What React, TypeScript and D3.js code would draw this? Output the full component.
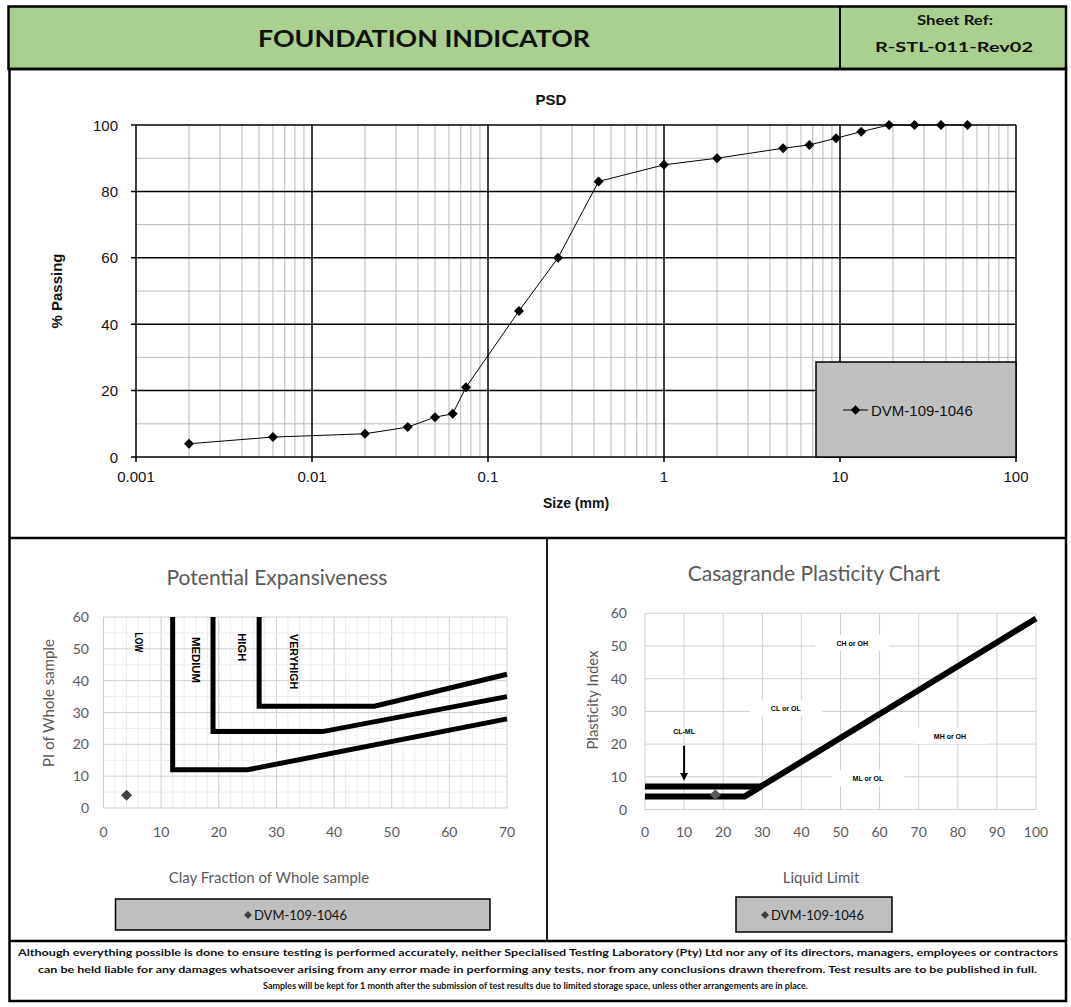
import React from "react";
import * as d3 from "d3";

// ---------- DATA ----------
const psdSizes = [0.002, 0.006, 0.02, 0.035, 0.05, 0.063, 0.075, 0.15, 0.25, 0.425, 1, 2, 4.75, 6.7, 9.5, 13.2, 19, 26.5, 37.5, 53];
const psdPassing = [4, 6, 7, 9, 12, 13, 21, 44, 60, 83, 88, 90, 93, 94, 96, 98, 100, 100, 100, 100];
const psdYTicks = [0, 20, 40, 60, 80, 100];
const psdXTicks = [0.001, 0.01, 0.1, 1, 10, 100];
const sampleName = "DVM-109-1046";

const expXTicks = [0, 10, 20, 30, 40, 50, 60, 70];
const expYTicks = [0, 10, 20, 30, 40, 50, 60];
const expLowMedium: [number, number][] = [[12, 60], [12, 12], [25, 12], [70, 28]];
const expMediumHigh: [number, number][] = [[19, 60], [19, 24], [38, 24], [70, 35]];
const expHighVeryHigh: [number, number][] = [[27, 60], [27, 32], [47, 32], [70, 42]];
const expLabels = [
  { text: "LOW", x: 6, y: 52, len: 20 },
  { text: "MEDIUM", x: 16, y: 46.5, len: 46 },
  { text: "HIGH", x: 24, y: 50.5, len: 28 },
  { text: "VERYHIGH", x: 33, y: 46, len: 55 },
];
const expSample: [number, number] = [4, 4];

const casXTicks = [0, 10, 20, 30, 40, 50, 60, 70, 80, 90, 100];
const casYTicks = [0, 10, 20, 30, 40, 50, 60];
const casALine: [number, number][] = [[0, 4], [25.5, 4], [100, 58.4]];
const casUpper: [number, number][] = [[0, 7], [29.6, 7]];
const casArrow: [number, number][] = [[10, 19.5], [10, 10]];
const casLabels = [
  { text: "CL-ML", x: 10, y: 24, w: 34 },
  { text: "CL or OL", x: 36, y: 31, w: 72 },
  { text: "CH or OH", x: 53, y: 51, w: 74 },
  { text: "MH or OH", x: 78, y: 22.5, w: 72 },
  { text: "ML or OL", x: 57, y: 9.6, w: 72 },
];
const casSample: [number, number] = [18, 4.5];

const footerLines = [
  "Although everything possible is done to ensure testing is performed accurately, neither Specialised Testing Laboratory (Pty) Ltd nor any of its directors, managers, employees or contractors",
  "can be held liable for any damages whatsoever arising from any error made in performing any tests, nor from any conclusions drawn therefrom. Test results are to be published in full.",
  "Samples will be kept for 1 month after the submission of test results due to limited storage space, unless other arrangements are in place.",
];

// ---------- STYLE ----------
const ARIAL = "'Liberation Sans', Arial, sans-serif";
const CAL = "Lato, 'Open Sans', sans-serif";
const GREY_TXT = "#595959";

const diamond = (size: number) => d3.symbol().type(d3.symbolSquare).size(size)() as string;

export default function App() {
  // PSD scales
  const px = d3.scaleLog().domain([0.001, 100]).range([136, 1016]);
  const py = d3.scaleLinear().domain([0, 100]).range([457, 125]);
  const minorX: number[] = [];
  [0.001, 0.01, 0.1, 1, 10].forEach((d) => {
    for (let k = 2; k <= 9; k++) minorX.push(k * d);
  });
  const minorY = [10, 30, 50, 70, 90];
  const psdLine = d3
    .line<number>()
    .x((_, i) => px(psdSizes[i]))
    .y((v) => py(v));

  // Expansiveness scales
  const ex = d3.scaleLinear().domain([0, 70]).range([103.5, 507]);
  const ey = d3.scaleLinear().domain([0, 60]).range([808, 617]);
  const exMinor = d3.range(0, 71, 2);
  const eyMinor = d3.range(0, 61, 5);
  const eLine = d3.line<[number, number]>().x((d) => ex(d[0])).y((d) => ey(d[1]));

  // Casagrande scales
  const cx = d3.scaleLinear().domain([0, 100]).range([645, 1036]);
  const cy = d3.scaleLinear().domain([0, 60]).range([809.5, 613.3]);
  const cLine = d3.line<[number, number]>().x((d) => cx(d[0])).y((d) => cy(d[1]));

  return (
    <svg width={1071} height={1007} style={{ position: "absolute", left: 0, top: 0, background: "#fff" }}>
      <defs>
        <marker id="arrowHead" viewBox="0 0 10 10" refX="5" refY="5" markerWidth="4" markerHeight="4" orient="auto">
          <path d="M0,0 L10,5 L0,10 z" fill="#000" />
        </marker>
      </defs>

      {/* Header */}
      <rect x={8.5} y={6.5} width={1057.5} height={62.5} fill="#a9d08e" stroke="#000" strokeWidth={2.5} />
      <line x1={840} x2={840} y1={6.5} y2={69} stroke="#000" strokeWidth={2} />
      <text x={424} y={47} textAnchor="middle" fontFamily={CAL} fontWeight={700} fontSize={23} textLength={332} lengthAdjust="spacingAndGlyphs" fill="#111">
        FOUNDATION INDICATOR
      </text>
      <text x={955} y={25} textAnchor="middle" fontFamily={CAL} fontWeight={700} fontSize={14} textLength={76} lengthAdjust="spacingAndGlyphs" fill="#111">
        Sheet Ref:
      </text>
      <text x={954} y={52} textAnchor="middle" fontFamily={CAL} fontWeight={700} fontSize={14} textLength={158} lengthAdjust="spacingAndGlyphs" fill="#111">
        R-STL-011-Rev02
      </text>

      {/* Frame */}
      <rect x={9.5} y={69} width={1056.5} height={932} fill="none" stroke="#000" strokeWidth={2.5} />
      <line x1={9} x2={1066} y1={538} y2={538} stroke="#000" strokeWidth={2.5} />
      <line x1={547} x2={547} y1={538} y2={941} stroke="#000" strokeWidth={1.8} />
      <line x1={9} x2={1066} y1={941} y2={941} stroke="#000" strokeWidth={2.5} />

      {/* ===== PSD ===== */}
      <g>
        {minorX.map((v) => (
          <line key={"mx" + v} x1={px(v)} x2={px(v)} y1={py(100)} y2={py(0)} stroke="#b8b8b8" strokeWidth={1} />
        ))}
        {minorY.map((v) => (
          <line key={"my" + v} x1={px(0.001)} x2={px(100)} y1={py(v)} y2={py(v)} stroke="#b8b8b8" strokeWidth={1} />
        ))}
        {psdXTicks.map((v) => (
          <line key={"Mx" + v} x1={px(v)} x2={px(v)} y1={py(100)} y2={py(0) + 5} stroke="#000" strokeWidth={1.5} />
        ))}
        {psdYTicks.map((v) => (
          <line key={"My" + v} x1={px(0.001) - 5} x2={px(100)} y1={py(v)} y2={py(v)} stroke="#000" strokeWidth={1.5} />
        ))}
        {psdYTicks.map((v) => (
          <text key={"ty" + v} x={118} y={py(v) + 5.5} textAnchor="end" fontFamily={ARIAL} fontSize={15} fill="#111">
            {v}
          </text>
        ))}
        {psdXTicks.map((v) => (
          <text key={"tx" + v} x={px(v)} y={482} textAnchor="middle" fontFamily={ARIAL} fontSize={15} fill="#111">
            {String(v)}
          </text>
        ))}
        <text x={551} y={105} textAnchor="middle" fontFamily={ARIAL} fontWeight={700} fontSize={15} fill="#111">PSD</text>
        <text x={576} y={508} textAnchor="middle" fontFamily={ARIAL} fontWeight={700} fontSize={14} fill="#111">Size (mm)</text>
        <text transform="translate(62,291) rotate(-90)" textAnchor="middle" fontFamily={ARIAL} fontWeight={700} fontSize={15} fill="#111">% Passing</text>

        {/* legend */}
        <rect x={816} y={362} width={200} height={95} fill="#c0c0c0" stroke="#000" strokeWidth={1.5} />
        <line x1={843} x2={868} y1={410} y2={410} stroke="#000" strokeWidth={1} />
        <path d={diamond(45)} transform="translate(855.5,410) rotate(45)" fill="#000" />
        <text x={871} y={415.5} fontFamily={ARIAL} fontSize={15} fill="#111">{sampleName}</text>

        <path d={psdLine(psdPassing) as string} fill="none" stroke="#000" strokeWidth={1} />
        {psdPassing.map((v, i) => (
          <path key={"pt" + i} d={diamond(50)} transform={`translate(${px(psdSizes[i])},${py(v)}) rotate(45)`} fill="#000" />
        ))}
      </g>

      {/* ===== Potential Expansiveness ===== */}
      <g>
        {exMinor.map((v) => (
          <line key={"emx" + v} x1={ex(v)} x2={ex(v)} y1={ey(60)} y2={ey(0)} stroke={v % 10 === 0 ? "#d0d0d0" : "#ececec"} strokeWidth={1} />
        ))}
        {eyMinor.map((v) => (
          <line key={"emy" + v} x1={ex(0)} x2={ex(70)} y1={ey(v)} y2={ey(v)} stroke={v % 10 === 0 ? "#d0d0d0" : "#ececec"} strokeWidth={1} />
        ))}
        {expYTicks.map((v) => (
          <text key={"ety" + v} x={89} y={ey(v) + 5} textAnchor="end" fontFamily={CAL} fontSize={14} fill={GREY_TXT}>{v}</text>
        ))}
        {expXTicks.map((v) => (
          <text key={"etx" + v} x={ex(v)} y={837} textAnchor="middle" fontFamily={CAL} fontSize={14} fill={GREY_TXT}>{v}</text>
        ))}
        <text x={277} y={585} textAnchor="middle" fontFamily={CAL} fontSize={21} fill={GREY_TXT}>Potential Expansiveness</text>
        <text x={269} y={883} textAnchor="middle" fontFamily={CAL} fontSize={15} fill={GREY_TXT}>Clay Fraction of Whole sample</text>
        <text transform="translate(54,703) rotate(-90)" textAnchor="middle" fontFamily={CAL} fontSize={15} fill={GREY_TXT}>PI of Whole sample</text>

        {[expLowMedium, expMediumHigh, expHighVeryHigh].map((s, i) => (
          <path key={"eb" + i} d={eLine(s) as string} fill="none" stroke="#000" strokeWidth={5} />
        ))}
        {expLabels.map((l) => (
          <text key={l.text} transform={`translate(${ex(l.x) - 3.5},${ey(l.y)}) rotate(90)`} textAnchor="middle" fontFamily={ARIAL} fontWeight={700} fontSize={10} textLength={l.len} lengthAdjust="spacingAndGlyphs" fill="#000">
            {l.text}
          </text>
        ))}
        <path d={diamond(60)} transform={`translate(${ex(expSample[0])},${ey(expSample[1])}) rotate(45)`} fill="#404040" />

        <rect x={115.5} y={899} width={374.5} height={31} fill="#bfbfbf" stroke="#000" strokeWidth={1.5} />
        <path d={diamond(32)} transform="translate(248,915) rotate(45)" fill="#404040" />
        <text x={254} y={919.5} fontFamily={CAL} fontSize={13} fill="#111">{sampleName}</text>
      </g>

      {/* ===== Casagrande ===== */}
      <g>
        {casXTicks.map((v) => (
          <line key={"cgx" + v} x1={cx(v)} x2={cx(v)} y1={cy(60)} y2={cy(0)} stroke="#d0d0d0" strokeWidth={1} />
        ))}
        {casYTicks.map((v) => (
          <line key={"cgy" + v} x1={cx(0)} x2={cx(100)} y1={cy(v)} y2={cy(v)} stroke="#d0d0d0" strokeWidth={1} />
        ))}
        {casYTicks.map((v) => (
          <text key={"cty" + v} x={627} y={cy(v) + 5} textAnchor="end" fontFamily={CAL} fontSize={14} fill={GREY_TXT}>{v}</text>
        ))}
        {casXTicks.map((v) => (
          <text key={"ctx" + v} x={cx(v)} y={837} textAnchor="middle" fontFamily={CAL} fontSize={14} fill={GREY_TXT}>{v}</text>
        ))}
        <text x={814} y={581} textAnchor="middle" fontFamily={CAL} fontSize={21} fill={GREY_TXT}>Casagrande Plasticity Chart</text>
        <text x={821} y={883} textAnchor="middle" fontFamily={CAL} fontSize={15} fill={GREY_TXT}>Liquid Limit</text>
        <text transform="translate(598,700) rotate(-90)" textAnchor="middle" fontFamily={CAL} fontSize={15} fill={GREY_TXT}>Plasticity Index</text>

        {casLabels.map((l) => (
          <g key={l.text}>
            {l.w > 40 && <rect x={cx(l.x) - l.w / 2} y={cy(l.y) - 8} width={l.w} height={16} fill="#fff" />}
            <text x={cx(l.x)} y={cy(l.y) + 3} textAnchor="middle" fontFamily={ARIAL} fontWeight={700} fontSize={7} fill="#000">
              {l.text}
            </text>
          </g>
        ))}
        <path d={cLine(casALine) as string} fill="none" stroke="#000" strokeWidth={6} />
        <path d={cLine(casUpper) as string} fill="none" stroke="#000" strokeWidth={6} />
        <path d={cLine(casArrow) as string} fill="none" stroke="#000" strokeWidth={2} markerEnd="url(#arrowHead)" />
        <path d={diamond(60)} transform={`translate(${cx(casSample[0])},${cy(casSample[1])}) rotate(45)`} fill="#595959" />

        <rect x={736} y={897} width={156} height={35} fill="#bfbfbf" stroke="#000" strokeWidth={1.5} />
        <path d={diamond(32)} transform="translate(765,915) rotate(45)" fill="#404040" />
        <text x={771} y={919.5} fontFamily={CAL} fontSize={13} fill="#111">{sampleName}</text>
      </g>

      {/* Footer */}
      {footerLines.map((t, i) => (
        <text
          key={i}
          x={[538, 537.5, 535.5][i]}
          y={[956, 973, 989][i]}
          textAnchor="middle"
          fontFamily={CAL}
          fontWeight={700}
          fontSize={[9.5, 9.5, 9][i]}
          textLength={[1040, 999, 545][i]}
          lengthAdjust="spacingAndGlyphs"
          fill="#111"
        >
          {t}
        </text>
      ))}
    </svg>
  );
}
